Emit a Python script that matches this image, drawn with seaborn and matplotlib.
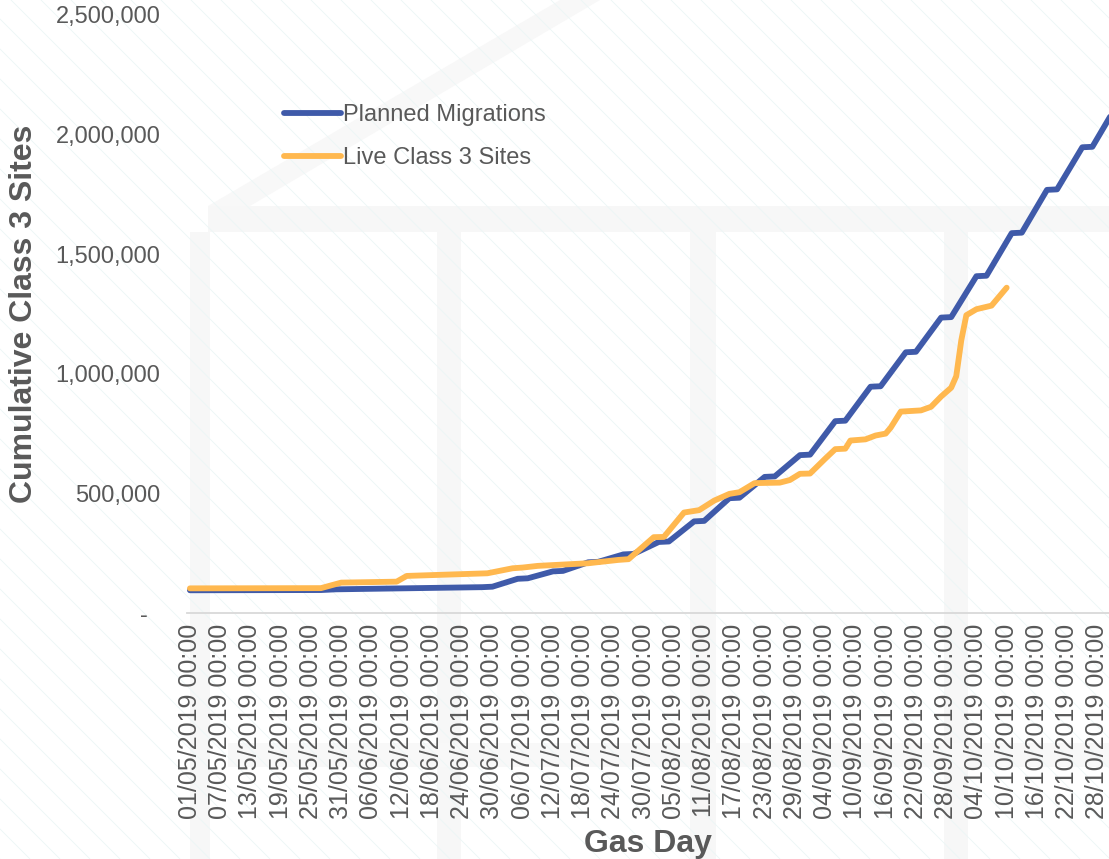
import matplotlib
matplotlib.use("Agg")
import matplotlib.pyplot as plt
from matplotlib.patches import Rectangle, Polygon
from matplotlib.lines import Line2D
import numpy as np
import pandas as pd
import seaborn as sns

# planned migrations (weekly build-up, flat over weekends)
planned_dates = ["01/05/2019", "27/05/2019", "30/05/2019", "28/06/2019", "30/06/2019",
                 "05/07/2019", "07/07/2019", "12/07/2019", "14/07/2019", "19/07/2019",
                 "21/07/2019", "26/07/2019", "28/07/2019", "02/08/2019", "04/08/2019",
                 "09/08/2019", "11/08/2019", "16/08/2019", "18/08/2019", "23/08/2019",
                 "25/08/2019", "30/08/2019", "01/09/2019", "06/09/2019", "08/09/2019",
                 "13/09/2019", "15/09/2019", "20/09/2019", "22/09/2019", "27/09/2019",
                 "29/09/2019", "04/10/2019", "06/10/2019", "11/10/2019", "13/10/2019",
                 "18/10/2019", "20/10/2019", "25/10/2019", "27/10/2019", "01/11/2019"]
planned_values = [95000, 96000, 99000, 108000, 110000,
                  143000, 145000, 174000, 176000, 212000,
                  214000, 245000, 247000, 297000, 299000,
                  383000, 385000, 480000, 482000, 569000,
                  571000, 660000, 662000, 802000, 804000,
                  946000, 948000, 1090000, 1092000, 1235000,
                  1237000, 1408000, 1410000, 1588000, 1590000,
                  1769000, 1771000, 1947000, 1949000, 2128000]

# live class 3 sites
live_dates = ["01/05/2019", "27/05/2019", "31/05/2019", "11/06/2019", "13/06/2019",
              "29/06/2019", "04/07/2019", "06/07/2019", "09/07/2019", "19/07/2019",
              "25/07/2019", "27/07/2019", "01/08/2019", "03/08/2019", "07/08/2019",
              "10/08/2019", "13/08/2019", "16/08/2019", "18/08/2019", "21/08/2019",
              "26/08/2019", "28/08/2019", "30/08/2019", "01/09/2019", "04/09/2019",
              "06/09/2019", "08/09/2019", "09/09/2019", "12/09/2019", "14/09/2019",
              "16/09/2019", "17/09/2019", "19/09/2019", "23/09/2019", "25/09/2019",
              "27/09/2019", "29/09/2019", "30/09/2019", "01/10/2019", "02/10/2019",
              "04/10/2019", "07/10/2019", "10/10/2019"]
live_values = [103000, 104000, 127000, 131000, 155000,
               166000, 187000, 190000, 197000, 208000,
               222000, 225000, 317000, 318000, 420000,
               430000, 470000, 498000, 505000, 543000,
               545000, 556000, 582000, 583000, 645000,
               685000, 687000, 721000, 726000, 742000,
               750000, 775000, 842000, 847000, 862000,
               905000, 942000, 990000, 1140000, 1245000,
               1270000, 1285000, 1360000]

series_names = ["Planned Migrations", "Live Class 3 Sites"]
y_ticks = [0, 500000, 1000000, 1500000, 2000000, 2500000]
y_labels = ["-  ", "500,000", "1,000,000", "1,500,000", "2,000,000", "2,500,000"]

df = pd.concat([
    pd.DataFrame({"date": pd.to_datetime(planned_dates, dayfirst=True),
                  "value": planned_values, "series": series_names[0]}),
    pd.DataFrame({"date": pd.to_datetime(live_dates, dayfirst=True),
                  "value": live_values, "series": series_names[1]}),
])

sns.set_theme(style="white")
plt.rcParams["font.family"] = ["Liberation Sans", "DejaVu Sans"]

W, H = 1109, 859
fig = plt.figure(figsize=(W / 100, H / 100), dpi=100)
fig.patch.set_facecolor("white")

# faint watermark and diagonal hatching in the background
def px_rect(x0, y0, x1, y1, color="#f7f7f7"):
    fig.patches.append(Rectangle((x0 / W, 1 - y1 / H), (x1 - x0) / W, (y1 - y0) / H,
                                 transform=fig.transFigure, facecolor=color,
                                 edgecolor="none", zorder=0))

px_rect(208, 206, W, 232)
for x0, x1 in [(190, 210), (437, 461), (690, 716), (944, 968)]:
    px_rect(x0, 232, x1, H)
px_rect(228, 743, W, 767, "#f8f8f8")

shadow = [(208, 206), (560, 0), (600, 0), (250, 206)]
fig.patches.append(Polygon([(x / W, 1 - y / H) for x, y in shadow], closed=True,
                           transform=fig.transFigure, facecolor="#f8f8f8",
                           edgecolor="none", zorder=0))

for c in range(-H, W + 30, 30):
    fig.add_artist(Line2D([c / W, (c + H) / W], [1, 0], transform=fig.transFigure,
                          color="#ebf6f6", lw=0.6, zorder=0.5))

ax = fig.add_axes([187 / W, (H - 613) / H, (W - 187) / W, 598 / H])
ax.set_facecolor("none")
ax.set_zorder(2)

sns.lineplot(data=df, x="date", y="value", hue="series", hue_order=series_names,
             palette=["#3f5aa9", "#ffb84f"], linewidth=4.2, estimator=None,
             legend=False, ax=ax)
for ln in ax.get_lines():
    ln.set_solid_capstyle("round")
    ln.set_solid_joinstyle("round")

start = pd.Timestamp("2019-05-01")
ax.set_xlim(start - pd.Timedelta(hours=14), start + pd.Timedelta(days=182.3))
ax.set_ylim(0, 2500000)

xt = pd.date_range("2019-05-01", "2019-10-28", freq="6D")
ax.set_xticks(xt)
ax.set_xticklabels([d.strftime("%d/%m/%Y %H:%M") for d in xt], rotation=90,
                   fontsize=18, color="#595959")
ax.set_yticks(y_ticks)
ax.set_yticklabels(y_labels, fontsize=17, color="#595959")
ax.tick_params(axis="x", length=0, pad=8)
ax.tick_params(axis="y", length=0, pad=19)

for s in ["top", "right", "left"]:
    ax.spines[s].set_visible(False)
ax.spines["bottom"].set_color("#d9d9d9")
ax.spines["bottom"].set_linewidth(1.3)

ax.set_xlabel("Gas Day", fontsize=23, fontweight="bold", color="#595959", labelpad=7)
ax.set_ylabel("Cumulative Class 3 Sites", fontsize=23, fontweight="bold",
              color="#595959", labelpad=12)

ax.legend(ax.get_lines(), series_names, loc="upper left", frameon=False,
          bbox_to_anchor=(284 / W, 1 - 104 / H), bbox_transform=fig.transFigure,
          borderaxespad=0, borderpad=0, fontsize=17, handlelength=2.4,
          handletextpad=0.1, labelspacing=0.88, labelcolor="#595959")

fig.savefig("out.png", dpi=100, facecolor="white")
